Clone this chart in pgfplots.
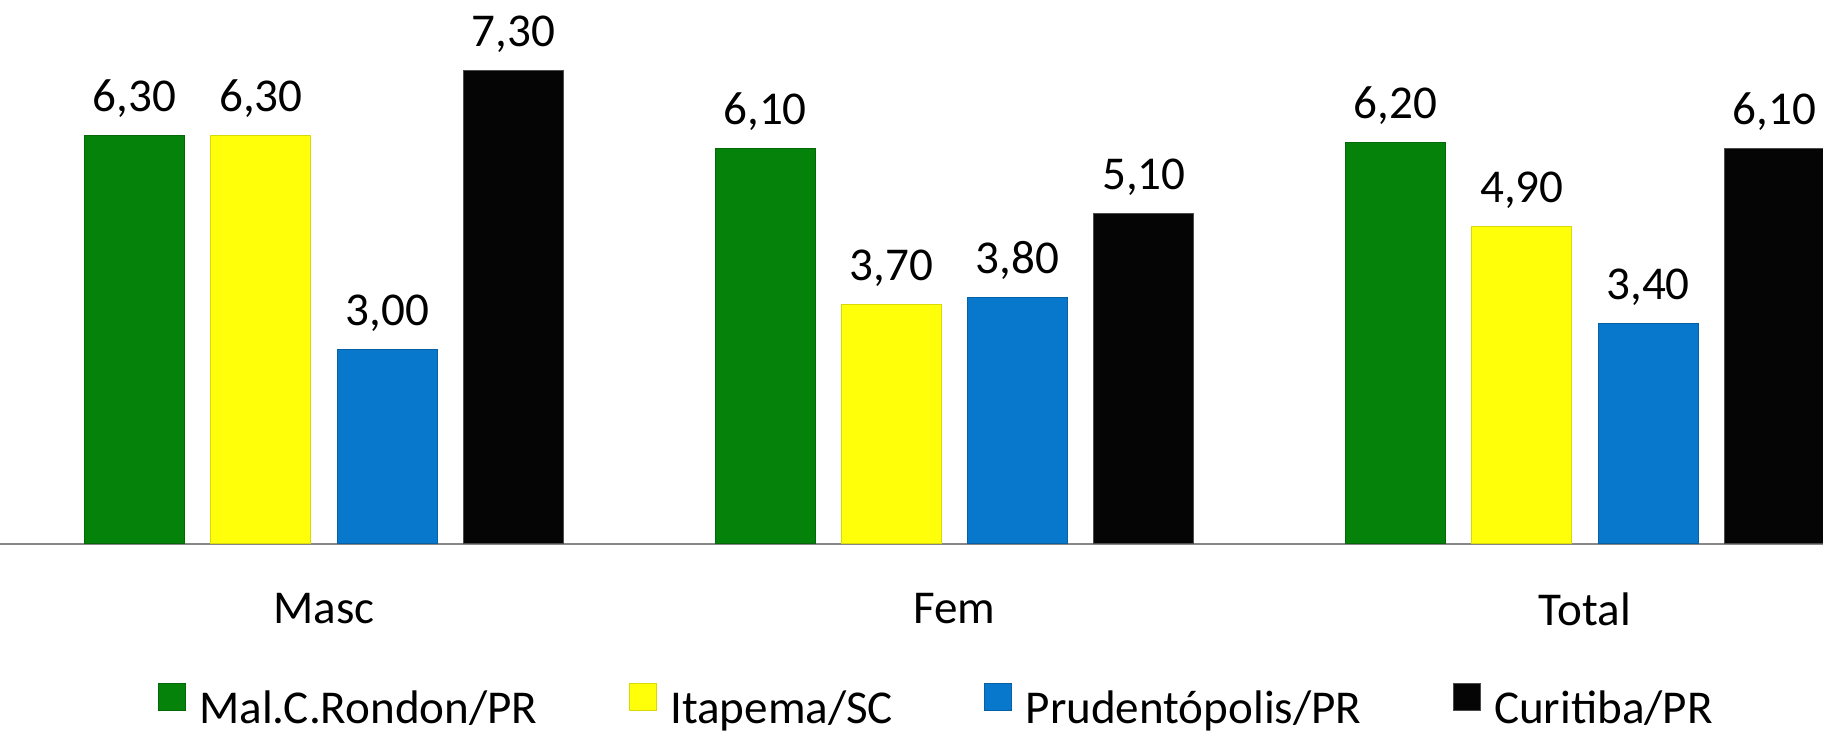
\documentclass[border=0pt]{standalone}
\usepackage{pgfplots}
\pgfplotsset{compat=1.18}
\usepackage{fontspec}
\setmainfont{Carlito}
\definecolor{cgreen}{RGB}{5,130,10}
\definecolor{cyellow}{RGB}{255,255,10}
\definecolor{cblue}{RGB}{8,120,204}
\definecolor{cblack}{RGB}{5,5,5}
\newcommand{\cfont}{\fontsize{13.4}{16}\selectfont}
\begin{document}
\begin{tikzpicture}
\path[use as bounding box] (0,-19mm) rectangle (182.3mm,54.4mm);
\clip (0,-19mm) rectangle (182.3mm,54.4mm);
\begin{axis}[
  at={(0,0)}, anchor=south west,
  scale only axis, width=182.3mm, height=54.4mm,
  xmin=-0.5139, xmax=2.3775, ymin=0, ymax=8.395,
  ybar=2.63mm, bar width=10mm,
  axis y line=none, axis x line=bottom,
  x axis line style={-, draw=black!47, line width=0.15mm},
  xtick={0,1,2}, xticklabels={Masc,Fem,Total}, major tick length=0pt,
  xticklabel style={anchor=center, yshift=-6.5mm, font=\cfont},
  font=\cfont,
  nodes near coords,
  every node near coord/.append style={anchor=base, inner sep=0pt, yshift=2.4mm, font=\cfont, black},
  /pgf/number format/fixed, /pgf/number format/fixed zerofill,
  /pgf/number format/precision=2, /pgf/number format/use comma,
  /pgf/number format/assume math mode=true,
  legend image code/.code={\fill[#1] (0mm,-0.1mm) rectangle (2.7mm,2.6mm); \path[draw=none, fill=none, line width=0pt] (2.7mm,1mm) -- (3.4mm,1mm);},
  legend style={at={(rel axis cs:0.515,-0.304)}, anchor=center, draw=none, fill=none,
    legend columns=4, font=\cfont,
    /tikz/every even column/.append style={column sep=8.4mm}},
]
\addplot[fill=cgreen, draw=cgreen!80!black, line width=0.3pt] coordinates {(0,6.3) (1,6.1) (2,6.2)};
\addplot[fill=cyellow, draw=cyellow!85!black, line width=0.3pt] coordinates {(0,6.3) (1,3.7) (2,4.9)};
\addplot[fill=cblue, draw=cblue!80!black, line width=0.3pt] coordinates {(0,3.0) (1,3.8) (2,3.4)};
\addplot[fill=cblack, draw=black!70, line width=0.3pt] coordinates {(0,7.3) (1,5.1) (2,6.1)};
\legend{Mal.C.Rondon/PR, Itapema/SC, Prudentópolis/PR, Curitiba/PR}
\end{axis}
\end{tikzpicture}
\end{document}
